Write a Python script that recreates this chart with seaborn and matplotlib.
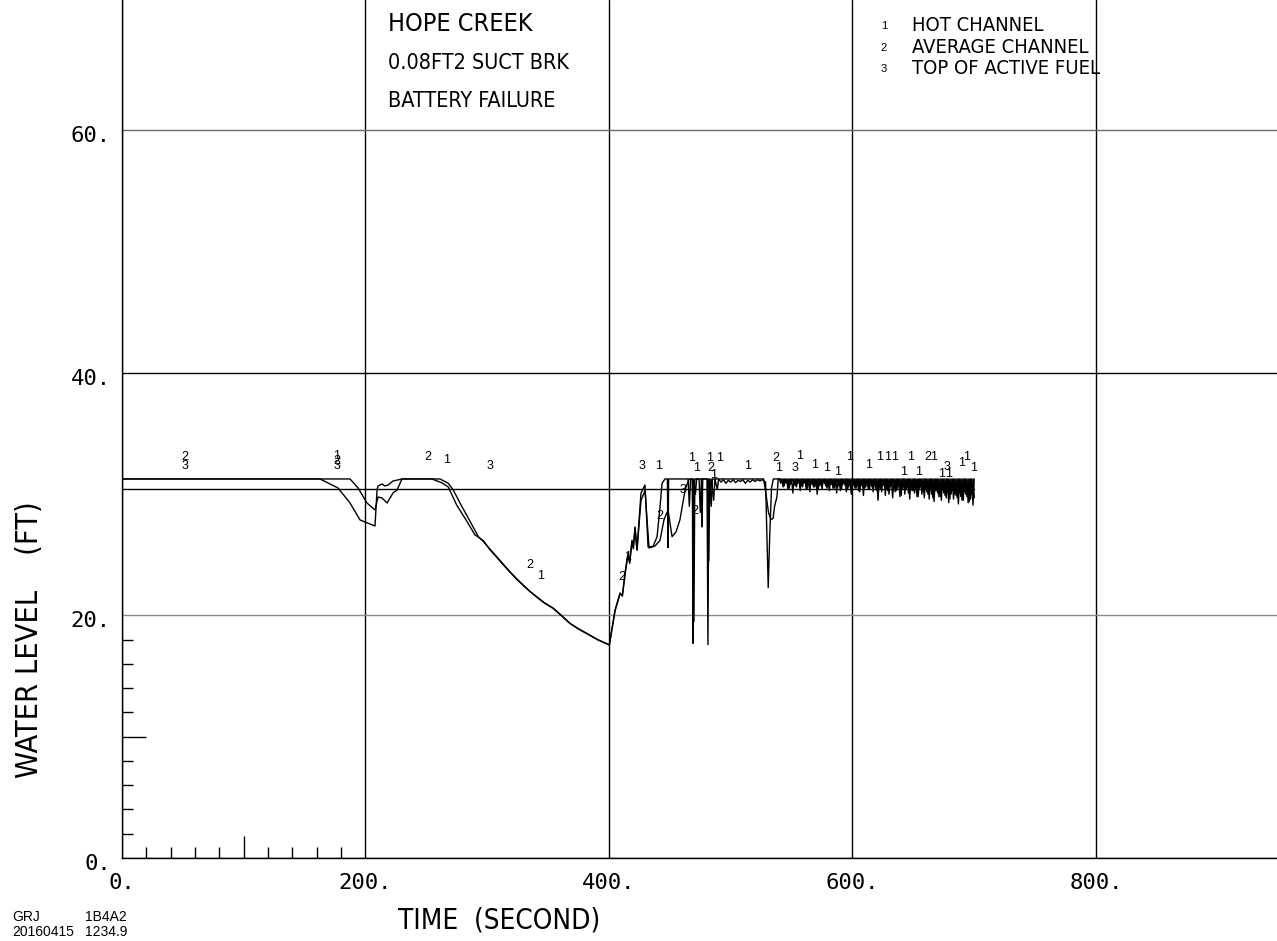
import matplotlib
matplotlib.use("Agg")
import matplotlib.pyplot as plt
import matplotlib.transforms as mtransforms
import pandas as pd
import seaborn as sns

# ---------------- data ----------------
# series 3 : top of active fuel
taf_t = [0.0, 700.0]
taf_y = [30.43, 30.43]

cap_level = 31.26   # upper bound the channel levels saturate at

# series 1 : hot channel (smooth part)
hot_t = [0.0, 187.3, 193.9, 201.2, 207.8, 210.3, 213.6, 217.7, 222.6, 225.9,
         230.0, 261.2, 268.0, 272.1, 277.6, 284.5, 292.7, 296.8, 302.0, 307.8,
         313.0, 318.7, 324.0, 329.6, 335.0, 340.6, 347.0, 354.3, 361.0, 368.0,
         375.0, 381.7, 391.0, 400.3, 405.0, 409.1, 411.0, 413.2, 415.6, 417.0,
         418.9, 420.0, 421.4, 423.0, 426.3, 429.6, 432.1, 436.2, 439.5, 441.9,
         443.6, 446.0, 448.0, 448.5, 449.0, 465.0, 466.0, 467.0, 468.5, 469.0,
         469.6, 471.0, 472.0, 476.0, 476.4, 477.0, 480.5, 481.3, 482.0, 483.0,
         484.0, 486.0, 487.0, 489.0, 490.0, 492.0, 494.0, 496.0, 498.0, 500.0,
         502.0, 504.0, 506.0, 508.0, 510.0, 512.0, 514.0, 516.0, 518.0, 520.0,
         522.0, 524.0, 526.0, 528.6, 530.8, 532.0, 533.5, 535.0, 540.0]
hot_y = [31.26, 31.26, 30.52, 29.28, 28.70, 29.77, 29.69, 29.28, 30.10, 30.35,
         31.26, 31.26, 30.90, 30.35, 29.28, 28.02, 26.50, 26.10, 25.50, 24.85,
         24.25, 23.60, 23.05, 22.50, 22.00, 21.55, 21.05, 20.60, 20.00, 19.36,
         18.90, 18.53, 18.00, 17.57, 20.45, 21.86, 21.60, 23.50, 25.15, 24.30,
         26.20, 25.50, 27.30, 25.40, 30.10, 30.76, 25.65, 25.70, 26.50, 28.95,
         30.90, 31.26, 31.26, 25.60, 31.26, 31.26, 29.00, 31.26, 31.26, 17.70,
         31.26, 30.00, 31.26, 31.26, 27.30, 31.26, 31.26, 17.60, 31.26, 30.20,
         31.26, 29.50, 31.26, 30.40, 31.26, 31.00, 31.20, 30.90, 31.15, 31.00,
         31.20, 30.95, 31.15, 31.05, 31.20, 30.90, 31.15, 31.00, 31.20, 31.05,
         31.20, 31.10, 31.20, 31.00, 22.30, 26.50, 30.50, 31.26, 31.26]

# series 2 : average channel (smooth part)
avg_t = [0.0, 162.6, 177.4, 187.3, 195.5, 199.6, 207.8, 209.5, 210.3, 213.6,
         216.0, 218.5, 222.6, 230.0, 254.4, 262.6, 268.0, 274.9, 281.7, 290.0,
         296.8, 302.0, 307.8, 313.0, 318.7, 324.0, 329.6, 335.0, 340.6, 347.0,
         354.3, 361.0, 368.0, 375.0, 381.7, 391.0, 400.3, 405.0, 409.1, 411.0,
         413.2, 415.6, 417.0, 418.9, 420.0, 421.4, 423.0, 426.3, 429.6, 432.9,
         437.8, 441.9, 445.2, 448.5, 451.8, 455.1, 458.3, 462.5, 465.7, 468.5,
         469.8, 470.5, 474.0, 475.0, 476.0, 481.0, 482.0, 482.8, 484.0, 485.0,
         527.0, 529.0, 531.0, 533.0, 534.8, 536.0, 538.0, 539.0]
avg_y = [31.26, 31.26, 30.52, 29.28, 27.88, 27.71, 27.38, 30.35, 30.68, 30.85,
         30.68, 30.76, 31.09, 31.26, 31.26, 30.95, 30.60, 29.11, 28.02, 26.64,
         26.18, 25.45, 24.80, 24.20, 23.58, 23.00, 22.48, 21.98, 21.52, 21.02,
         20.57, 19.98, 19.33, 18.88, 18.50, 17.98, 17.57, 20.40, 21.80, 21.65,
         23.40, 25.00, 24.40, 26.10, 25.60, 27.20, 25.40, 29.50, 30.30, 25.57,
         25.73, 26.20, 27.90, 28.70, 26.50, 26.90, 27.90, 30.35, 31.26, 31.26,
         19.50, 31.26, 31.26, 28.50, 31.26, 31.26, 24.50, 31.26, 29.00, 31.26,
         31.26, 30.00, 28.50, 27.90, 28.00, 29.00, 29.80, 31.26]

# noisy tail (540 s - 700 s): sample times
odd_t = [541, 543, 545, 547, 549, 551, 553, 555, 557, 559,
         561, 563, 565, 567, 569, 571, 573, 575, 577, 579,
         581, 583, 585, 587, 589, 591, 593, 595, 597, 599,
         601, 603, 605, 607, 609, 611, 613, 615, 617, 619,
         621, 623, 625, 627, 629, 631, 633, 635, 637, 639,
         641, 643, 645, 647, 649, 651, 653, 655, 657, 659,
         661, 663, 665, 667, 669, 671, 673, 675, 677, 679,
         681, 683, 685, 687, 689, 691, 693, 695, 697, 699]
even_t = [542, 544, 546, 548, 550, 552, 554, 556, 558, 560,
          562, 564, 566, 568, 570, 572, 574, 576, 578, 580,
          582, 584, 586, 588, 590, 592, 594, 596, 598, 600,
          602, 604, 606, 608, 610, 612, 614, 616, 618, 620,
          622, 624, 626, 628, 630, 632, 634, 636, 638, 640,
          642, 644, 646, 648, 650, 652, 654, 656, 658, 660,
          662, 664, 666, 668, 670, 672, 674, 676, 678, 680,
          682, 684, 686, 688, 690, 692, 694, 696, 698, 700]
# dips of the hot channel (at odd_t), level is at cap between them
hot_dips = [30.9, 30.6, 31.0, 30.4, 30.8, 30.1, 30.7, 30.9, 30.3, 30.6,
            31.0, 30.5, 30.2, 30.8, 30.6, 30.0, 30.7, 30.4, 30.9, 30.5,
            30.3, 30.8, 30.5, 30.1, 30.7, 30.4, 30.9, 30.2, 30.6, 30.0,
            30.8, 30.5, 30.3, 30.7, 29.9, 30.6, 30.4, 30.8, 30.2, 30.5,
            29.5, 30.4, 30.7, 29.9, 30.3, 30.6, 29.7, 30.2, 30.5, 29.8,
            30.4, 30.0, 30.6, 29.6, 30.3, 30.1, 29.8, 30.5, 30.0, 29.7,
            30.2, 29.6, 30.0, 29.4, 30.3, 29.8, 29.5, 30.1, 29.7, 29.3,
            30.0, 29.6, 29.9, 29.2, 29.8, 29.5, 30.0, 29.3, 29.6, 29.1]
# dips of the average channel (at even_t)
avg_dips = [31.0, 30.7, 30.9, 30.5, 31.1, 30.8, 30.6, 31.0, 30.7, 30.9,
            30.4, 30.8, 31.0, 30.6, 30.9, 30.5, 30.8, 31.0, 30.7, 30.6,
            30.8, 30.5, 30.9, 30.6, 30.3, 30.8, 30.7, 30.4, 30.9, 30.6,
            30.5, 30.8, 30.2, 30.7, 30.5, 30.9, 30.4, 30.6, 30.8, 30.3,
            30.6, 30.2, 30.8, 30.4, 30.0, 30.7, 30.5, 30.3, 30.8, 29.9,
            30.6, 30.4, 30.1, 30.7, 30.3, 30.5, 29.8, 30.6, 30.2, 30.4,
            30.0, 30.5, 29.7, 30.3, 30.1, 29.8, 30.4, 29.9, 30.2, 29.6,
            30.3, 30.0, 29.7, 30.1, 29.5, 30.2, 29.8, 29.4, 30.0, 29.7]

# curve identification symbols drawn along the curves
mark_txt = ["2", "3", "1", "2", "3", "2", "1", "3", "2", "1",
            "2", "1", "3", "1", "2", "3", "1", "1", "2", "1",
            "1", "2", "1", "1", "2", "1", "3", "1", "1", "1",
            "1", "1", "1", "1", "1", "1", "1", "1", "1", "2",
            "1", "1", "3", "1", "1", "1", "1"]
mark_t = [51.7, 51.7, 176.6, 176.6, 176.6, 251.4, 267.0, 302.3, 335.1, 344.2,
          410.7, 415.1, 427.1, 441.1, 442.0, 461.1, 468.2, 472.3, 470.7, 483.0,
          491.2, 483.8, 485.5, 514.2, 537.2, 539.7, 552.8, 556.9, 569.2, 578.8,
          587.5, 598.0, 613.6, 622.0, 628.5, 634.9, 641.8, 648.1, 654.1, 662.2,
          666.4, 673.3, 677.4, 678.7, 689.2, 693.8, 699.3]
mark_y = [33.07, 32.33, 33.15, 32.70, 32.33, 33.07, 32.82, 32.33, 24.16, 23.26,
          23.18, 24.85, 32.33, 32.33, 28.20, 30.35, 33.00, 32.16, 28.60, 33.00,
          33.00, 32.16, 31.60, 32.33, 33.00, 32.16, 32.16, 33.15, 32.41, 32.14,
          31.86, 33.10, 32.41, 33.10, 33.10, 33.10, 31.81, 33.10, 31.86, 33.10,
          33.10, 31.67, 32.27, 31.67, 32.55, 33.10, 32.14]

x_ticks = [0, 200, 400, 600, 800]
x_tick_labels = ["0.", "200.", "400.", "600.", "800."]
y_ticks = [0, 20, 40, 60]
y_tick_labels = ["0.", "20.", "40.", "60."]
x_minor = [20, 40, 60, 80, 100, 120, 140, 160, 180]
y_minor = [2, 4, 6, 8, 10, 12, 14, 16, 18]

legend_num = ["1", "2", "3"]
legend_txt = ["HOT CHANNEL", "AVERAGE CHANNEL", "TOP OF ACTIVE FUEL"]
title_lines = ["HOPE CREEK", "0.08FT2 SUCT BRK", "BATTERY FAILURE"]

# ---------------- build tables ----------------
def build(t_main, y_main, dip_t, dips, cap_t):
    pts = sorted(list(zip(dip_t, dips)) + [(t, cap_level) for t in cap_t])
    return pd.DataFrame({"t": list(t_main) + [p[0] for p in pts],
                         "level": list(y_main) + [p[1] for p in pts]})

hot_df = build(hot_t, hot_y, odd_t, hot_dips, even_t)
avg_df = build(avg_t, avg_y, even_t, avg_dips, odd_t)
taf_df = pd.DataFrame({"t": taf_t, "level": taf_y})

# ---------------- figure ----------------
sns.set_theme(style="white")
plt.rcParams["font.family"] = ["DejaVu Sans"]
plt.rcParams["font.stretch"] = "condensed"
for k in ("text.color", "axes.labelcolor", "xtick.color", "ytick.color"):
    plt.rcParams[k] = "black"

TXT = dict(family=["DejaVu Sans"], fontstretch="condensed", color="black")
SMALL = dict(family=["Liberation Sans", "DejaVu Sans"], color="black")

W, H = 1277, 941
fig = plt.figure(figsize=(W / 100, H / 100), dpi=100)
ax = fig.add_axes([122 / W, 1 - 858 / H, 1 - 122 / W, 858 / H])

for df in (taf_df, avg_df, hot_df):
    sns.lineplot(data=df, x="t", y="level", sort=False, estimator=None,
                 color="black", linewidth=1.0, ax=ax)

ax.set_xlim(0, 948.7)
ax.set_ylim(0, 70.76)
ax.set_xlabel("")
ax.set_ylabel("")

ax.set_xticks(x_ticks)
ax.set_xticklabels(x_tick_labels, fontfamily="DejaVu Sans Mono", fontsize=16)
ax.set_yticks(y_ticks)
ax.set_yticklabels(y_tick_labels, fontfamily="DejaVu Sans Mono", fontsize=16)
ax.set_xticks(x_minor, minor=True)
ax.set_yticks(y_minor, minor=True)
ax.tick_params(which="both", bottom=True, left=True, top=False, right=False)
ax.tick_params(which="major", length=0, colors="black")
ax.tick_params(axis="x", which="major", pad=11)
ax.tick_params(axis="y", which="major", pad=8)
ax.tick_params(which="minor", direction="in", length=8, width=1.0, color="black")

ax.grid(True, which="major", color="black", linewidth=1.0)
ax.grid(False, which="minor")
ygl = ax.yaxis.get_gridlines()
ygl[1].set_color("#8a8a8a")
ygl[3].set_color("#6a6a6a")

for s in ("top", "right"):
    ax.spines[s].set_visible(False)
for s in ("left", "bottom"):
    ax.spines[s].set_color("black")
    ax.spines[s].set_linewidth(1.0)

# longer minor ticks at 100 s and 10 ft
for tk, loc in zip(ax.xaxis.get_minor_ticks(), x_minor):
    if loc == 100:
        tk.tick1line.set_markersize(16)
for tk, loc in zip(ax.yaxis.get_minor_ticks(), y_minor):
    if loc == 10:
        tk.tick1line.set_markersize(17)

# move y tick labels slightly below their grid line
off = mtransforms.ScaledTranslation(0, -4 / 100, fig.dpi_scale_trans)
for lab in ax.get_yticklabels():
    lab.set_transform(lab.get_transform() + off)

# curve identification symbols
for s, t, y in zip(mark_txt, mark_t, mark_y):
    ax.text(t, y, s, ha="center", va="center", fontsize=9, **SMALL)

# title block
title_base = [31, 69, 107]
title_size = [18, 15.5, 15.5]
for txt, b, fs in zip(title_lines, title_base, title_size):
    fig.text(388 / W, 1 - b / H, txt, ha="left", va="baseline", fontsize=fs, **TXT)

# legend block
leg_base = [31, 53, 74]
for n, txt, b in zip(legend_num, legend_txt, leg_base):
    fig.text(884 / W, 1 - (b - 2) / H, n, ha="center", va="baseline", fontsize=8, **SMALL)
    fig.text(912 / W, 1 - b / H, txt, ha="left", va="baseline", fontsize=14.5, **TXT)

# axis titles
fig.text(499 / W, 1 - 928 / H, "TIME  (SECOND)", ha="center", va="baseline",
         fontsize=20, **TXT)
fig.text(30 / W, 1 - 640 / H, "WATER LEVEL    (FT)", ha="center", va="center",
         rotation=90, fontsize=22, **TXT)

# footer
foot = ["GRJ", "1B4A2", "20160415", "1234.9"]
foot_x = [12, 85, 12, 85]
foot_b = [921, 921, 936, 936]
for txt, x, b in zip(foot, foot_x, foot_b):
    fig.text(x / W, 1 - b / H, txt, ha="left", va="baseline", fontsize=10, **SMALL)

fig.savefig("out.png", dpi=100)
